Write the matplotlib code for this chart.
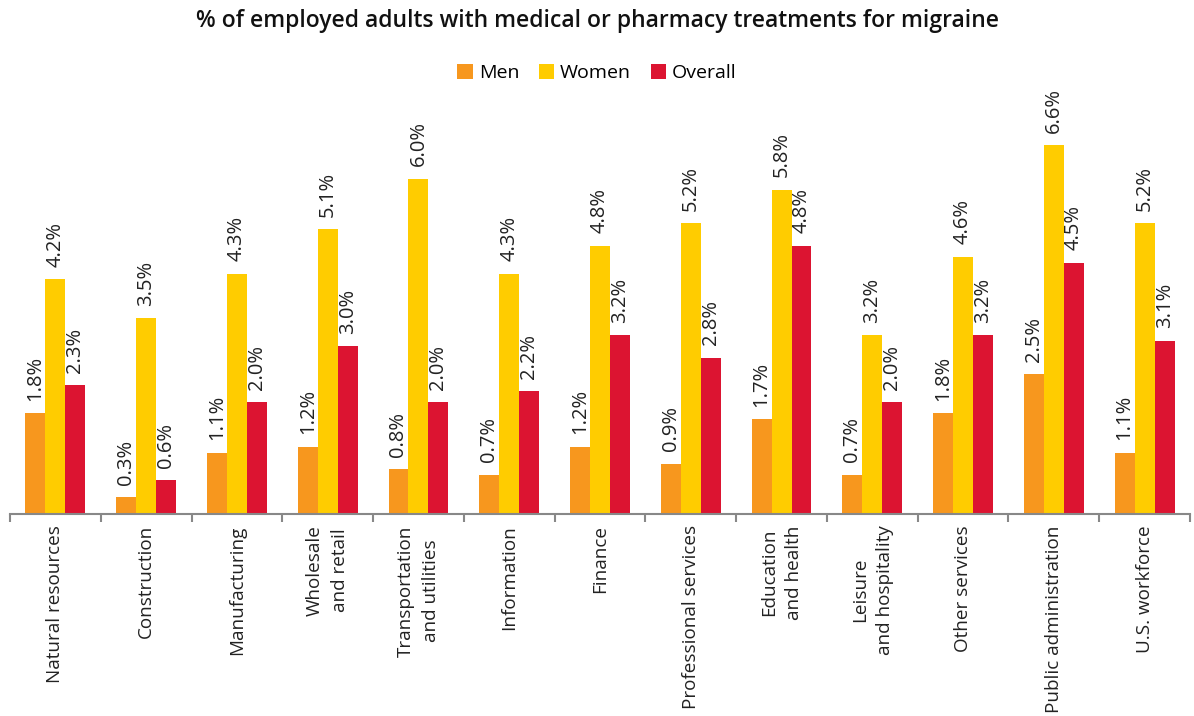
import matplotlib.pyplot as plt
import numpy as np

plt.rcParams['font.family'] = ['Open Sans', 'DejaVu Sans']

categories = ["Natural resources", "Construction", "Manufacturing",
              "Wholesale\nand retail", "Transportation\nand utilities",
              "Information", "Finance", "Professional services",
              "Education\nand health", "Leisure\nand hospitality",
              "Other services", "Public administration", "U.S. workforce"]
men = [1.8, 0.3, 1.1, 1.2, 0.8, 0.7, 1.2, 0.9, 1.7, 0.7, 1.8, 2.5, 1.1]
women = [4.2, 3.5, 4.3, 5.1, 6.0, 4.3, 4.8, 5.2, 5.8, 3.2, 4.6, 6.6, 5.2]
overall = [2.3, 0.6, 2.0, 3.0, 2.0, 2.2, 3.2, 2.8, 4.8, 2.0, 3.2, 4.5, 3.1]

series = [("Men", men, "#F7971E"), ("Women", women, "#FFCC00"), ("Overall", overall, "#DC1431")]

fig = plt.figure(figsize=(11.94, 7.16), dpi=100)
ax = fig.add_axes([10 / 1194, (716 - 514) / 716, 1180 / 1194, 447 / 716])

x = np.arange(len(categories))
w = 0.22
for i, (name, vals, col) in enumerate(series):
    pos = x + (i - 1) * w
    ax.bar(pos, vals, width=w, color=col, label=name, edgecolor="none")
    for p, v in zip(pos, vals):
        ax.annotate(f"{v:.1f}%", (p, v), xytext=(0, 9), textcoords="offset points",
                    rotation=90, ha="center", va="bottom", fontsize=14.5, color="#222222")

ax.set_xlim(-0.5, len(categories) - 0.5)
ax.set_ylim(0, 8)
for s in ["top", "right", "left"]:
    ax.spines[s].set_visible(False)
ax.spines["bottom"].set_color("#888888")
ax.spines["bottom"].set_linewidth(1.5)
ax.set_yticks([])

ax.set_xticks(np.arange(len(categories) + 1) - 0.5)
ax.set_xticklabels([])
ax.tick_params(axis="x", length=6, width=1.5, color="#888888", direction="out")
for xi, lab in zip(x, categories):
    ax.text(xi, -0.2, lab, rotation=90, ha="center", va="top", multialignment="center",
            fontsize=13.6, color="#222222", linespacing=1.5)

fig.text(0.5, 0.988, "% of employed adults with medical or pharmacy treatments for migraine",
         ha="center", va="top", fontsize=16.5, fontweight="semibold", color="#111111")
fig.legend(loc="center", bbox_to_anchor=(0.5, 1 - 73 / 716), ncol=3, frameon=False,
           fontsize=14, handlelength=0.8, handleheight=0.8, handletextpad=0.3,
           columnspacing=1.0)

fig.savefig("out.png", dpi=100)
